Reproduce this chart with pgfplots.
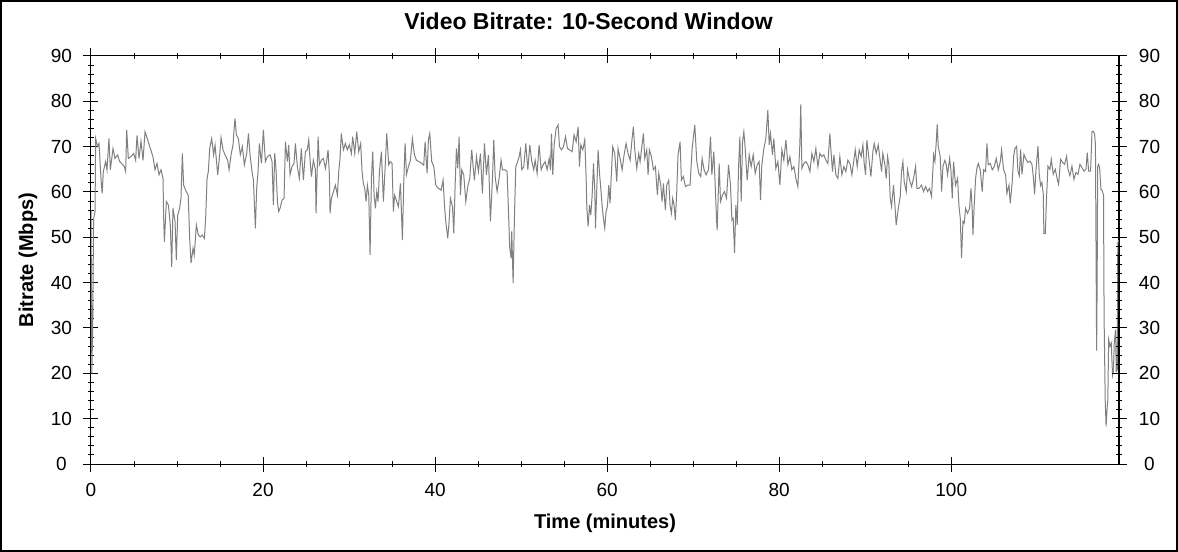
\documentclass[border=0pt]{standalone}
\usepackage{fontspec}
\setmainfont{Liberation Sans}
\usepackage{pgfplots}
\pgfplotsset{compat=1.18}
\definecolor{linegray}{RGB}{128,128,128}
\begin{document}
\begin{tikzpicture}
\pgfplotsset{
  chartbase/.style={
    width=1028bp, height=408bp, scale only axis,
    xmin=0, xmax=119.5, ymin=0, ymax=90,
    ytick={0,10,...,90}, minor y tick num=4,
    tick align=center,
    major tick length=15bp, minor tick length=6bp,
    axis line style={line width=1bp},
    every tick/.style={black, line width=1bp},
    /pgf/number format/assume math mode=true,
    ticklabel style={font=\fontsize{19bp}{21bp}\selectfont},
  },
}
\begin{axis}[
  chartbase,
  xtick={0,20,...,100}, minor x tick num=3,
  ytick pos=left,
  xtick pos=both,
  xticklabel style={anchor=base, yshift=-25bp},
  yticklabel style={anchor=center, xshift=-22bp},
  xlabel={\bfseries Time (minutes)},
  ylabel={\bfseries Bitrate (Mbps)},
  label style={font=\fontsize{20bp}{22bp}\selectfont},
  xlabel style={at={(axis description cs:0.5,-0.1593)}, anchor=base},
  ylabel style={at={(axis description cs:-0.0564,0.5)}, anchor=base, rotate=0},
  title={\bfseries Video Bitrate: 10-Second Window},
  title style={at={(axis description cs:0.484,1.0515)}, anchor=base,
    font=\fontsize{23bp}{25bp}\selectfont},
]
\addplot[color=linegray, line width=1bp, sharp plot] coordinates {
(0,56) (0.1,20) (0.2,31) (0.3,54) (0.47,55.7) (0.54,71.8) (0.77,70) (0.93,70.7) (1.16,63) (1.3,59.7) (1.43,64.5) (1.7,66.7) (1.86,64.9) (2.09,71.8) (2.25,64.9) (2.56,69.6) (2.79,67.4) (3.1,68.2) (3.33,66.7) (3.57,66.3) (3.88,65.6) (4.03,64.5) (4.15,73.7) (4.34,67.4) (4.65,67.8) (4.96,68.5) (5.19,67) (5.35,72.5) (5.58,67.4) (5.81,71.2) (6.05,67) (6.28,73.3) (6.59,71.5) (6.9,69.6) (7.2,67.8) (7.44,64.9) (7.67,66.3) (7.91,63.8) (8.14,64.9) (8.37,63) (8.45,54.2) (8.53,49) (8.76,57.9) (9.0,57.1) (9.22,52.7) (9.38,43.5) (9.53,56.4) (9.77,53.5) (9.92,45) (10.08,54.9) (10.3,56.4) (10.46,58.6) (10.62,68.5) (10.77,61.5) (11.0,60.4) (11.3,59.3) (11.47,49.8) (11.63,44.3) (11.86,47.6) (12.0,46.1) (12.25,52.7) (12.48,50.5) (12.71,50.1) (12.95,50.5) (13.18,49.8) (13.33,54.2) (13.49,63) (13.64,64.5) (13.8,69.6) (14.03,71.8) (14.26,68.2) (14.42,70.4) (14.73,63.8) (14.96,68.2) (15.12,72) (15.35,69.3) (15.58,68.2) (15.89,67) (16.05,64.9) (16.28,68.2) (16.51,70.4) (16.67,74.8) (16.74,76.2) (16.9,72.6) (17.13,71.8) (17.36,68.2) (17.6,70) (17.83,66)
(18.1,68.5) (18.3,72.9) (18.49,68.2) (18.72,64.5) (18.88,62.6) (19.03,55.7) (19.11,52) (19.26,60.8) (19.42,64.5) (19.57,70.7) (19.81,66.3) (20.04,73.7) (20.27,66.7) (20.5,67.8) (20.81,68.2) (21.05,66.7) (21.2,57.1) (21.36,68.5) (21.51,64.9) (21.67,57.9) (21.82,55.7) (21.98,56.4) (22.21,58.2) (22.44,58.6) (22.6,71.1) (22.83,66.7) (22.98,70.4) (23.14,63.8) (23.37,65.6) (23.6,66.3) (23.76,70.7) (23.99,65.6) (24.22,63) (24.45,69.6) (24.69,62.6) (24.92,68.9) (25.15,69.3) (25.31,71.5) (25.47,67) (25.62,63.4) (25.85,67) (26.09,64.9) (26.16,55.3) (26.4,72.2) (26.55,66) (26.78,67) (27.01,67.4) (27.25,65.2) (27.4,67) (27.56,69.3) (27.71,63.8) (27.79,55.3) (27.95,58.6) (28.18,60.1) (28.41,61.5) (28.64,59.3) (28.8,64.5) (28.95,67.4) (29.1,72.9) (29.34,69.3) (29.57,70.7) (29.8,69.3) (30.03,70.4) (30.27,68.5) (30.42,72.2) (30.66,68.5) (30.89,73.3) (31.12,68.9) (31.35,70.7) (31.51,64.5) (31.66,61.9) (31.82,60.8) (31.98,57.9) (32.13,61.5) (32.29,59.3) (32.44,46.1) (32.6,63) (32.75,68.9) (32.91,59.3) (33.06,56.4) (33.22,60.1) (33.37,57.9) (33.53,64.5) (33.76,68.9) (33.99,57.9) (34.15,63.8) (34.38,72.9) (34.61,66) (34.77,66.7) (35.0,66.3) (35.15,55.7) (35.3,59.3)
(35.54,57.9) (35.74,56.8) (35.97,61.9) (36.2,49.4) (36.36,62.3) (36.51,70.7) (36.67,63.8) (36.9,65.6) (37.13,67) (37.36,71.8) (37.6,68.2) (37.83,67) (38.14,66.7) (38.45,66.3) (38.68,65.9) (38.84,71.1) (39.07,64.1) (39.22,71.5) (39.38,72.9) (39.61,66.7) (39.85,65.6) (40.08,61.5) (40.39,60.8) (40.7,60.4) (40.93,62.6) (41.09,57.1) (41.24,53.5) (41.47,49.8) (41.63,53.5) (41.78,58.6) (42.02,56.8) (42.17,50.9) (42.33,61.5) (42.48,69.6) (42.64,65.2) (42.79,72.2) (42.95,59.3) (43.1,64.9) (43.33,63.8) (43.57,57.9) (43.8,61.2) (44.03,63) (44.26,69.3) (44.42,65.6) (44.57,62.6) (44.81,67.8) (45.04,64.5) (45.27,68.5) (45.5,59.7) (45.74,70.7) (45.97,63.8) (46.2,68.2) (46.43,53.5) (46.67,63) (46.82,71.5) (46.98,63.4) (47.21,60.1) (47.44,63) (47.67,67) (47.83,64.9) (48.14,64.9) (48.37,64.5) (48.53,55.7) (48.68,47.6) (48.84,45.4) (48.91,51.3) (49.07,39.9) (49.22,54.2) (49.38,65.6) (49.53,66.3) (49.77,67.8) (49.92,69.3) (50.08,64.9) (50.31,65.6) (50.54,70.7) (50.78,64.9) (51.01,70.4) (51.24,66.7) (51.47,64.9) (51.63,67) (51.86,64.1) (52.09,70.4) (52.33,64.9) (52.56,66) (52.79,66.7) (53.02,64.9) (53.26,67.4) (53.41,64.9)
(53.53,72.9) (53.68,63.8) (53.84,70.4) (54.07,74) (54.3,74.8) (54.46,70) (54.69,69.3) (54.92,70) (55.16,72.2) (55.39,69.6) (55.62,69.3) (55.93,68.9) (56.16,72.6) (56.4,71.1) (56.63,74.4) (56.78,65.6) (56.94,70.4) (57.17,69.3) (57.4,71.5) (57.56,63) (57.64,56.4) (57.79,52.4) (57.95,57.1) (58.1,54.9) (58.26,59.3) (58.41,66.3) (58.57,60.1) (58.64,52) (58.8,60.8) (58.95,69.3) (59.1,64.5) (59.26,60.8) (59.41,57.1) (59.57,54.2) (59.72,52) (59.88,55.7) (60.03,56.8) (60.19,61.5) (60.34,57.5) (60.5,64.5) (60.65,70) (60.88,68.5) (61.12,62.3) (61.27,69.6) (61.5,67.4) (61.74,64.9) (61.97,68.2) (62.2,70.7) (62.43,68.5) (62.67,67) (62.9,71.8) (63.05,74.4) (63.21,69.3) (63.44,65.2) (63.67,68.5) (63.83,66.7) (64.06,70.4) (64.22,72.9) (64.37,67.4) (64.6,69.3) (64.76,63.8) (64.91,69.3) (65.15,67.8) (65.38,64.9) (65.61,65.6) (65.84,59.3) (66.0,64.1) (66.23,61.5) (66.39,57.9) (66.54,61.9) (66.77,56) (66.93,61.5) (67.16,62.6) (67.31,57.1) (67.47,55.3) (67.62,58.6) (67.78,57.1) (67.93,53.8) (68.09,60.1) (68.24,68.2) (68.48,71.1) (68.63,62.6) (68.86,63.4) (69.1,61.2) (69.33,61.5) (69.64,61.5) (69.88,69.6) (70.03,72.2) (70.19,74.8) (70.42,66.7) (70.65,64.1) (70.88,63.4) (71.04,67.4) (71.27,64.9) (71.5,63.8)
(71.78,64.9) (72.02,72.2) (72.17,63.8) (72.4,68.9) (72.56,61.5) (72.71,54.2) (72.79,51.6) (73.02,66.3) (73.18,57.9) (73.41,59.3) (73.64,60.1) (73.88,58.6) (74.11,66) (74.34,61.5) (74.5,53.8) (74.65,54.2) (74.81,46.5) (74.96,57.1) (75.12,52.7) (75.27,65.2) (75.43,72.2) (75.58,57.9) (75.74,71.1) (75.89,73.3) (76.05,69.6) (76.28,62.6) (76.51,68.2) (76.74,65.6) (76.98,68.2) (77.21,64.1) (77.44,66) (77.67,66.7) (77.83,58.2) (77.98,66) (78.22,69.6) (78.45,71.8) (78.68,78.1) (78.84,70.4) (78.99,72.9) (79.22,68.2) (79.38,71.8) (79.61,65.2) (79.85,66.7) (80.08,61.5) (80.31,69.3) (80.54,67) (80.78,71.5) (81.01,66) (81.24,67.8) (81.47,64.9) (81.71,65.6) (81.94,63) (82.17,61.2) (82.4,70.4) (82.51,79.3) (82.64,65.2) (82.87,66.3) (83.1,66.7) (83.33,66) (83.57,64.5) (83.8,68.5) (84.03,66.7) (84.26,69.6) (84.5,65.6) (84.73,68.5) (84.96,67.8) (85.19,68.2) (85.43,67) (85.66,66.3) (85.89,72.9) (86.05,68.2) (86.2,64.5) (86.36,68.2) (86.59,63.8) (86.82,63) (87.05,67.8) (87.29,63.8) (87.52,65.6) (87.75,64.5) (87.98,67) (88.22,66.3) (88.45,63.8) (88.68,67) (88.84,69.3) (89.07,65.6) (89.3,69.3) (89.53,67.8)
(89.73,70.4) (89.88,66.3) (90.04,63.8) (90.19,71.5) (90.43,67.4) (90.66,63.4) (90.89,68.9) (91.05,70.7) (91.28,68.5) (91.51,70.4) (91.74,67) (91.9,64.5) (92.05,68.5) (92.29,66) (92.44,63) (92.6,67.8) (92.75,66) (92.91,58.6) (93.06,56.8) (93.29,61.5) (93.45,57.1) (93.6,52.7) (93.84,56.4) (94.07,59) (94.22,64.5) (94.38,66.7) (94.53,62.3) (94.77,60.1) (94.92,64.9) (95.16,62.6) (95.39,61.2) (95.62,63) (95.85,65.6) (96.01,60.8) (96.24,60.8) (96.55,61.5) (96.78,60.1) (97.02,61.2) (97.25,60.1) (97.48,60.8) (97.71,59) (97.95,68.2) (98.1,66.7) (98.26,71.1) (98.37,74.9) (98.49,70) (98.72,67.8) (98.88,60.1) (99.03,65.6) (99.26,67) (99.42,66) (99.57,63.8) (99.81,67.4) (99.96,64.9) (100.12,58.6) (100.27,66.7) (100.5,61.5) (100.74,63) (100.89,57.1) (101.05,54.2) (101.2,45.4) (101.36,53.5) (101.51,53.1) (101.67,56.4) (101.9,55.3) (102.13,56.4) (102.29,60.8) (102.44,56) (102.52,50.5) (102.67,57.1) (102.83,63) (102.98,65.2) (103.14,66.3) (103.37,64.9) (103.6,60.1) (103.76,64.9) (103.99,64.5) (104.15,70.7) (104.3,66) (104.53,66.3) (104.77,64.9) (105.0,65.6) (105.23,67.4) (105.47,64.9) (105.7,66.7) (105.85,69.3) (106.09,64.9) (106.32,63.8) (106.47,59.7) (106.71,61.5) (106.86,57.5) (107.09,62.3) (107.25,67.8) (107.4,69.6)
(107.6,70.1) (107.75,64.6) (107.91,63.6) (108.06,69.4) (108.22,63.9) (108.45,68.3) (108.68,67.2) (108.91,66.5) (109.15,66.8) (109.38,66.1) (109.53,63.6) (109.69,59.5) (109.84,64.6) (110.08,70.1) (110.23,63.9) (110.39,61.4) (110.54,62.1) (110.7,59.5) (110.77,50.8) (110.93,50.8) (111.08,58.8) (111.24,65.7) (111.47,65) (111.63,67.2) (111.86,63.9) (112.09,65) (112.33,62.8) (112.48,61.7) (112.71,67.2) (112.95,66.5) (113.18,66.1) (113.41,67.9) (113.57,65) (113.8,63.6) (114.03,65.7) (114.26,62.8) (114.5,64.3) (114.73,63.9) (114.96,66.1) (115.19,65.4) (115.43,64.6) (115.66,65) (115.81,68.7) (115.97,64.6) (116.2,64.6)
(116.36,73.3) (116.51,73.4) (116.67,72.8) (116.76,70.5) (116.84,45) (116.9,25) (116.96,40) (117.02,65.6) (117.13,66.1) (117.25,65.3) (117.4,60.6) (117.55,60.3) (117.7,59.3) (117.77,32) (117.9,14) (118.0,8.3) (118.12,12.3) (118.2,14) (118.3,27.4) (118.45,26) (118.6,26.7) (118.75,19.6) (118.85,20.5) (118.95,26.7) (119.1,29.6) (119.18,20.4) (119.3,20.8) (119.36,48.7) (119.45,49.4)
};
\end{axis}
\begin{axis}[
  chartbase,
  hide x axis,
  axis y line*=right,
  yticklabel style={anchor=center, xshift=23bp},
]
\end{axis}
\pgfresetboundingbox
\path[use as bounding box] (-91bp,-88bp) rectangle (1087bp,464bp);
\draw[line width=2bp] (-90bp,-87bp) rectangle (1086bp,463bp);
\end{tikzpicture}
\end{document}
